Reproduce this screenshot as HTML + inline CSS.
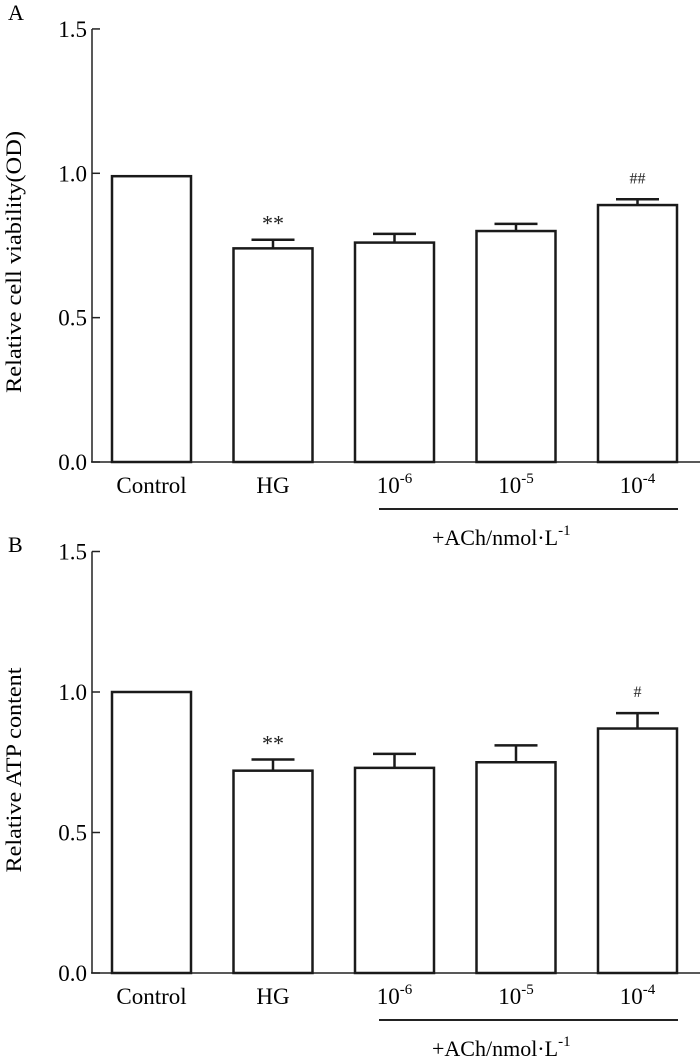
<!DOCTYPE html>
<html><head><meta charset="utf-8"><style>
html,body{margin:0;padding:0;background:#fff}
svg{display:block;font-family:"Liberation Serif",serif}
</style></head><body>
<svg id="fig" width="700" height="1057" viewBox="0 0 700 1057" xmlns="http://www.w3.org/2000/svg"></svg>
<script>
const categories = ["Control","HG","10^-6","10^-5","10^-4"];
const valuesA = [0.99, 0.74, 0.76, 0.80, 0.89];
const errorsA = [0, 0.03, 0.03, 0.025, 0.02];
const marksA = ["", "**", "", "", "##"];
const valuesB = [1.0, 0.72, 0.73, 0.75, 0.87];
const errorsB = [0, 0.04, 0.05, 0.06, 0.055];
const marksB = ["", "**", "", "", "#"];
const yTicks = [0, 0.5, 1.0, 1.5];
const yTickLabels = ["0.0","0.5","1.0","1.5"];

const NS="http://www.w3.org/2000/svg";
const svg=document.getElementById('fig');
function mk(tag,attrs,parent){const e=document.createElementNS(NS,tag);for(const k in attrs)e.setAttribute(k,attrs[k]);(parent||svg).appendChild(e);return e;}

function panel(p){
  const g=mk('g',{});
  
  
  const y=v=>p.y0-v*p.unit;
  const barX=i=>112+i*121.5;
  const bw=79;
  // panel letter
  const L=mk('text',{x:8,y:p.letterY,'font-size':22},g);L.textContent=p.letter;
  
  
  // y axis
  const ax=mk('line',{x1:92,y1:y(1.5),x2:92,y2:p.y0,stroke:'#222','stroke-width':1.5},g);
  
  
  const xa=mk('line',{x1:91,y1:p.y0,x2:700,y2:p.y0,stroke:'#222','stroke-width':1.5},g);
  
  
  yTicks.forEach((t,i)=>{
    const tk=mk('line',{x1:92,y1:y(t),x2:100,y2:y(t),stroke:'#222','stroke-width':1.5},g);
    
    
    const tl=mk('text',{x:87,y:y(t)+8,'font-size':23,'text-anchor':'end'},g);
    tl.textContent=yTickLabels[i];
    
    
  });
  const yl=mk('text',{x:0,y:0,'font-size':22,'text-anchor':'middle',transform:`translate(21,${p.ylabY}) rotate(-90)`,textLength:p.ylabLen,lengthAdjust:'spacingAndGlyphs'},g);
  yl.textContent=p.ylab;
  
  
  categories.forEach((c,i)=>{
    const x0=barX(i), v=p.values[i], e=p.errors[i], cx=x0+bw/2;
    const r=mk('rect',{x:x0,y:y(v),width:bw,height:p.y0-y(v),fill:'#fff',stroke:'#1a1a1a','stroke-width':2.5},g);
    
    
    if(e>0){
      const el=mk('path',{d:`M${cx},${y(v)} V${y(v+e)} M${cx-21.5},${y(v+e)} H${cx+21.5}`,stroke:'#1a1a1a','stroke-width':2.5,fill:'none'},g);
      
      
    }
    if(p.marks[i]){
      const m=mk('text',{x:cx,y:y(v+e)-(p.marks[i].includes('#')?16:9),'font-size':p.marks[i].includes('#')?16:22,'text-anchor':'middle',fill:'#222'},g);
      m.textContent=p.marks[i];
      
      
    }
    const t=mk('text',{x:cx,y:p.y0+31,'font-size':23,'text-anchor':'middle'},g);
    if(c.includes('^')){
      const [b,s]=c.split('^');
      const t1=mk('tspan',{},t);t1.textContent=b;
      const t2=mk('tspan',{dy:-10,'font-size':15},t);t2.textContent=s;
    } else t.textContent=c;
    
    
  });
  const br=mk('line',{x1:379,y1:p.y0+47,x2:678,y2:p.y0+47,stroke:'#222','stroke-width':2},g);
  
  
  const bt=mk('text',{x:432,y:p.y0+83,'font-size':22},g);
  const b1=mk('tspan',{},bt);b1.textContent='+ACh/nmol·L';
  const b2=mk('tspan',{dy:-10,'font-size':15},bt);b2.textContent='-1';
  
  
}
panel({name:'panel-a-cell-viability',letter:'A',letterY:20,y0:462,unit:288.7,values:valuesA,errors:errorsA,marks:marksA,ylab:'Relative cell viability(OD)',ylabY:262,ylabLen:262});
panel({name:'panel-b-atp-content',letter:'B',letterY:552,y0:973,unit:281,values:valuesB,errors:errorsB,marks:marksB,ylab:'Relative ATP content',ylabY:770,ylabLen:205});
</script>
</body></html>
